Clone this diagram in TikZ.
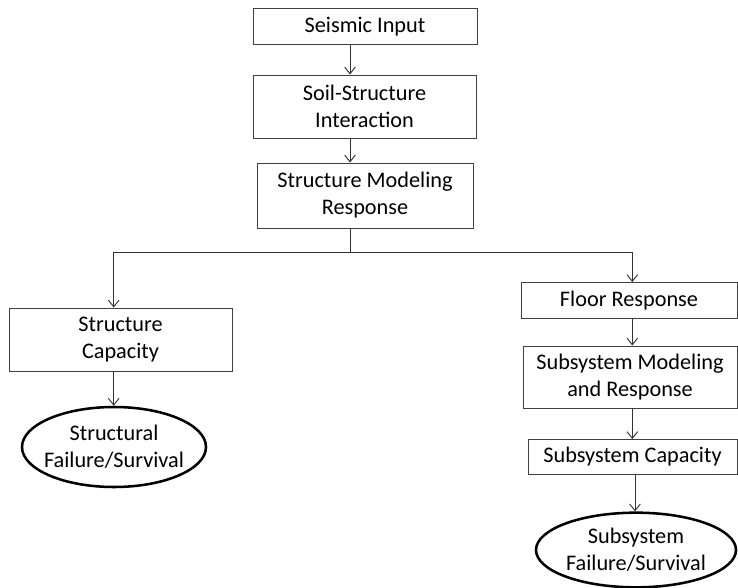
\documentclass[tikz,border=0pt]{standalone}
\usepackage{fontspec}
\setmainfont{Carlito}
\usetikzlibrary{arrows.meta,shapes.geometric}
\begin{document}
\begin{tikzpicture}[x=0.75pt,y=-0.75pt,
  box/.style={draw=black!75,line width=0.7pt,rectangle,inner sep=0pt,align=center,
    font=\fontsize{16.7}{20.3}\selectfont},
  oval/.style={draw=black,line width=1.9pt,ellipse,inner sep=0pt},
  txt/.style={align=center,inner sep=0pt,font=\fontsize{16.7}{20.3}\selectfont},
  arr/.style={draw=black!80,line width=0.7pt,-{Straight Barb[length=5pt,width=8pt,line width=0.7pt]}},
  ln/.style={draw=black!80,line width=0.7pt}]
\useasboundingbox (0,0) rectangle (738,588);
\node[box,minimum width=168pt,minimum height=27pt] (b1) at (365,26.5) {Seismic Input};
\node[box,minimum width=167.25pt,minimum height=47.25pt] (b2) at (364.5,106.5) {Soil-Structure\\Interaction};
\node[box,minimum width=162pt,minimum height=48.75pt] (b3) at (365,195.5) {Structure Modeling\\Response};
\node[box,minimum width=167.25pt,minimum height=47.25pt] (b4) at (120.5,339.5) {Structure\\Capacity};
\node[oval,minimum width=138pt,minimum height=60pt] (e1) at (114,447) {};
\node[txt] (e1t) at (e1.center) {Structural\\Failure/Survival};
\node[box,minimum width=162pt,minimum height=27pt] (b5) at (629,300.5) {Floor Response};
\node[box,minimum width=160.5pt,minimum height=46.5pt] (b6) at (630,377) {Subsystem Modeling\\and Response};
\node[box,minimum width=156.75pt,minimum height=26.25pt] (b7) at (632.5,457) {Subsystem Capacity};
\node[oval,minimum width=150pt,minimum height=56pt] (e2) at (636,550) {};
\node[txt] (e2t) at (e2.center) {Subsystem\\Failure/Survival};
\coordinate (cx) at (350,0);
\coordinate (lx) at (113.7,0);
\coordinate (rx) at (632.3,0);
\coordinate (rx2) at (635,0);
\coordinate (hy) at (0,252.7);
\draw[arr] (b1.south -| cx) -- (b2.north -| cx);
\draw[arr] (b2.south -| cx) -- (b3.north -| cx);
\draw[ln] (b3.south -| cx) -- (hy -| cx);
\draw[arr] (hy -| cx) -| (b4.north -| lx);
\draw[arr] (hy -| cx) -| (b5.north -| rx);
\draw[arr] (b4.south -| lx) -- (e1.north -| lx);
\draw[arr] (b5.south -| rx) -- (b6.north -| rx);
\draw[arr] (b6.south -| rx) -- (b7.north -| rx);
\draw[arr] (b7.south -| rx2) -- (e2.north -| rx2);
\end{tikzpicture}
\end{document}
